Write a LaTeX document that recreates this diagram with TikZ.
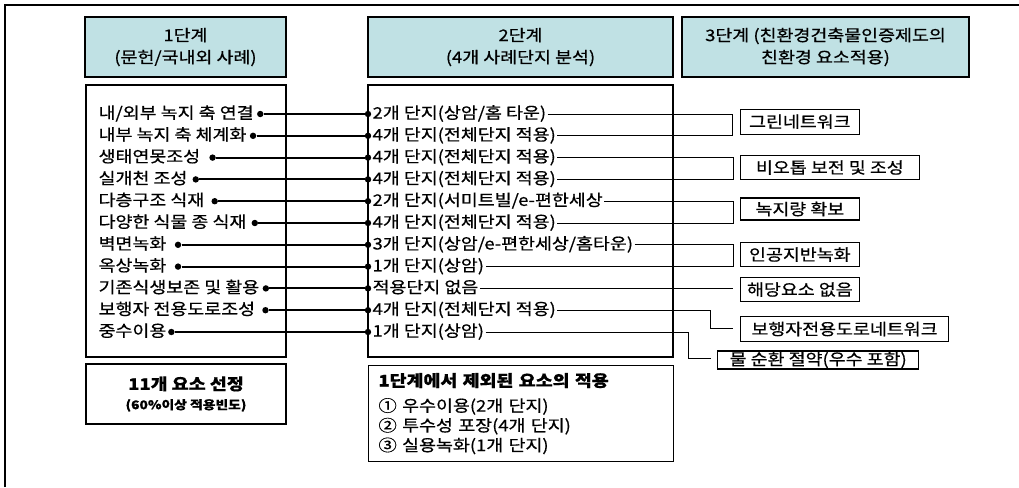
\documentclass[tikz,border=0pt]{standalone}
\usepackage{fontspec}
\setmainfont{Noto Sans CJK KR}[FakeStretch=1.15, FakeBold=0.6]
\usetikzlibrary{positioning}
\definecolor{hdrteal}{RGB}{192,225,228}
\tikzset{
  hdr/.style = {draw, line width=0.9pt, fill=hdrteal, align=center, inner sep=1pt},
  frm/.style = {draw, line width=0.9pt},
  itm/.style = {anchor=west, inner xsep=1pt, inner ysep=0pt, text height=9pt, text depth=2pt},
  pin/.style = {circle, fill, inner sep=0pt, minimum size=4.8pt},
  lnk/.style = {line width=1.6pt},
  thn/.style = {line width=0.65pt},
  tgt/.style = {draw, line width=0.8pt, minimum height=18.5pt, inner sep=1pt, anchor=west}
}

\begin{document}
\begin{tikzpicture}[x=0.75pt, y=-0.75pt]
\fontsize{12}{16.5}\selectfont
\useasboundingbox (0,0) rectangle (1019,487);
\draw[line width=0.8pt] (5,487) -- (5,5) -- (1019,5);

% headers
\node[hdr, minimum width=150.75pt, minimum height=45pt] (h1) at (185.5,47) {1단계\\(문헌/국내외 사례)};
\node[hdr, minimum width=228.75pt, minimum height=45pt] (h2) at (520.5,47) {2단계\\(4개 사례단지 분석)};
\node[hdr, minimum width=215.25pt, minimum height=45pt] (h3) at (825.5,47) {3단계 (친환경건축물인증제도의\\친환경 요소적용)};

\draw[frm] (86,85) rectangle (286,357);
\draw[frm] (368,85) rectangle (673,357);

% stage 1 elements
\node[itm] (s1) at (97,114) {내/외부 녹지 축 연결};
\node[itm] (s2) at (97,135.8) {내부 녹지 축 체계화};
\node[itm] (s3) at (97,157.6) {생태연못조성};
\node[itm] (s4) at (97,179.4) {실개천 조성};
\node[itm] (s5) at (97,201.2) {다층구조 식재};
\node[itm] (s6) at (97,223) {다양한 식물 종 식재};
\node[itm] (s7) at (97,244.8) {벽면녹화};
\node[itm] (s8) at (97,266.6) {옥상녹화};
\node[itm] (s9) at (97,288.4) {기존식생보존 및 활용};
\node[itm] (s10) at (97,310.2) {보행자 전용도로조성};
\node[itm] (s11) at (97,332) {중수이용};

\node[pin, right=1.2pt of s1] (p1) {};
\node[pin, right=1.2pt of s2] (p2) {};
\node[pin, right=5.5pt of s3] (p3) {};
\node[pin, right=2.5pt of s4] (p4) {};
\node[pin, right=4pt of s5] (p5) {};
\node[pin, right=2.5pt of s6] (p6) {};
\node[pin, right=5pt of s7] (p7) {};
\node[pin, right=5pt of s8] (p8) {};
\node[pin, right=1.2pt of s9] (p9) {};
\node[pin, right=4pt of s10] (p10) {};
\node[pin, right=0pt of s11] (p11) {};

% stage 2 cases
\node[pin] (q1) at (368,114) {};
\node[pin] (q2) at (368,135.8) {};
\node[pin] (q3) at (368,157.6) {};
\node[pin] (q4) at (368,179.4) {};
\node[pin] (q5) at (368,201.2) {};
\node[pin] (q6) at (368,223) {};
\node[pin] (q7) at (368,244.8) {};
\node[pin] (q8) at (368,266.6) {};
\node[pin] (q9) at (368,288.4) {};
\node[pin] (q10) at (368,310.2) {};
\node[pin] (q11) at (368,332) {};

\node[itm] (t1) at (371,114) {2개 단지(상암/홈 타운)};
\node[itm] (t2) at (371,135.8) {4개 단지(전체단지 적용)};
\node[itm] (t3) at (371,157.6) {4개 단지(전체단지 적용)};
\node[itm] (t4) at (371,179.4) {4개 단지(전체단지 적용)};
\node[itm] (t5) at (371,201.2) {2개 단지(서미트빌/e-편한세상};
\node[itm] (t6) at (371,223) {4개 단지(전체단지 적용)};
\node[itm] (t7) at (371,244.8) {3개 단지(상암/e-편한세상/홈타운)};
\node[itm] (t8) at (371,266.6) {1개 단지(상암)};
\node[itm] (t9) at (371,288.4) {적용단지 없음};
\node[itm] (t10) at (371,310.2) {4개 단지(전체단지 적용)};
\node[itm] (t11) at (371,332) {1개 단지(상암)};

\draw[lnk] (p1) -- (q1);
\draw[lnk] (p2) -- (q2);
\draw[lnk] (p3) -- (q3);
\draw[lnk] (p4) -- (q4);
\draw[lnk] (p5) -- (q5);
\draw[lnk] (p6) -- (q6);
\draw[lnk] (p7) -- (q7);
\draw[lnk] (p8) -- (q8);
\draw[lnk] (p9) -- (q9);
\draw[lnk] (p10) -- (q10);
\draw[lnk] (p11) -- (q11);

% stage 3 elements
\node[tgt, minimum width=89pt] (g1) at (740,121.7) {그린네트워크};
\node[tgt, minimum width=134pt] (g2) at (740,167.5) {비오톱 보전 및 조성};
\node[tgt, minimum width=89pt, minimum height=16.5pt] (g3) at (740,209) {녹지량 확보};
\node[tgt, minimum width=89pt] (g4) at (740,254.5) {인공지반녹화};
\node[tgt, minimum width=89pt] (g5) at (740,289.5) {해당요소 없음};
\node[tgt, minimum width=156pt] (g6) at (740,329) {보행자전용도로네트워크};
\node[tgt, minimum width=151pt, minimum height=13.5pt, inner ysep=0.5pt] (g7) at (717,360) {물 순환 절약(우수 포함)};

\coordinate (b1) at (732,125);
\coordinate (b2) at (733,168.5);
\coordinate (b3) at (733,212);
\coordinate (b4) at (733,255.7);
\coordinate (b5) at (733,288.4);
\coordinate (b6) at (710,319);
\coordinate (e6) at (733,328);
\coordinate (b7) at (688,345);
\coordinate (e7) at (711,358);
\draw[thn] (t1.east) -| (b1) |- (t2.east);
\draw[thn] (t3.east) -| (b2) |- (t4.east);
\draw[thn] (t5.east) -| (b3) |- (t6.east);
\draw[thn] (t7.east) -| (b4) |- (t8.east);
\draw[thn] (t9.east) -- (b5);
\draw[thn] (t10.east) -| (b6) |- (e6);
\draw[thn] (t11.east) -| (b7) |- (e7);

% summaries
\node[frm, minimum width=150pt, minimum height=45pt, align=center] (c1) at (186,394)
      {\bfseries 11개 요소 선정\\[-2pt]{\fontsize{9}{12}\selectfont\bfseries (60\%이상 적용빈도)}};
\node[frm, anchor=north west, minimum width=228.75pt, minimum height=72pt, inner xsep=7pt,
      text width=214pt, align=left, font=\fontsize{12}{14.8}\selectfont] (c2) at (368,365)
      {{\bfseries 1단계에서 제외된 요소의 적용}\\[4pt]
       ① 우수이용(2개 단지)\\ ② 투수성 포장(4개 단지)\\ ③ 실용녹화(1개 단지)};
\end{tikzpicture}
\end{document}
